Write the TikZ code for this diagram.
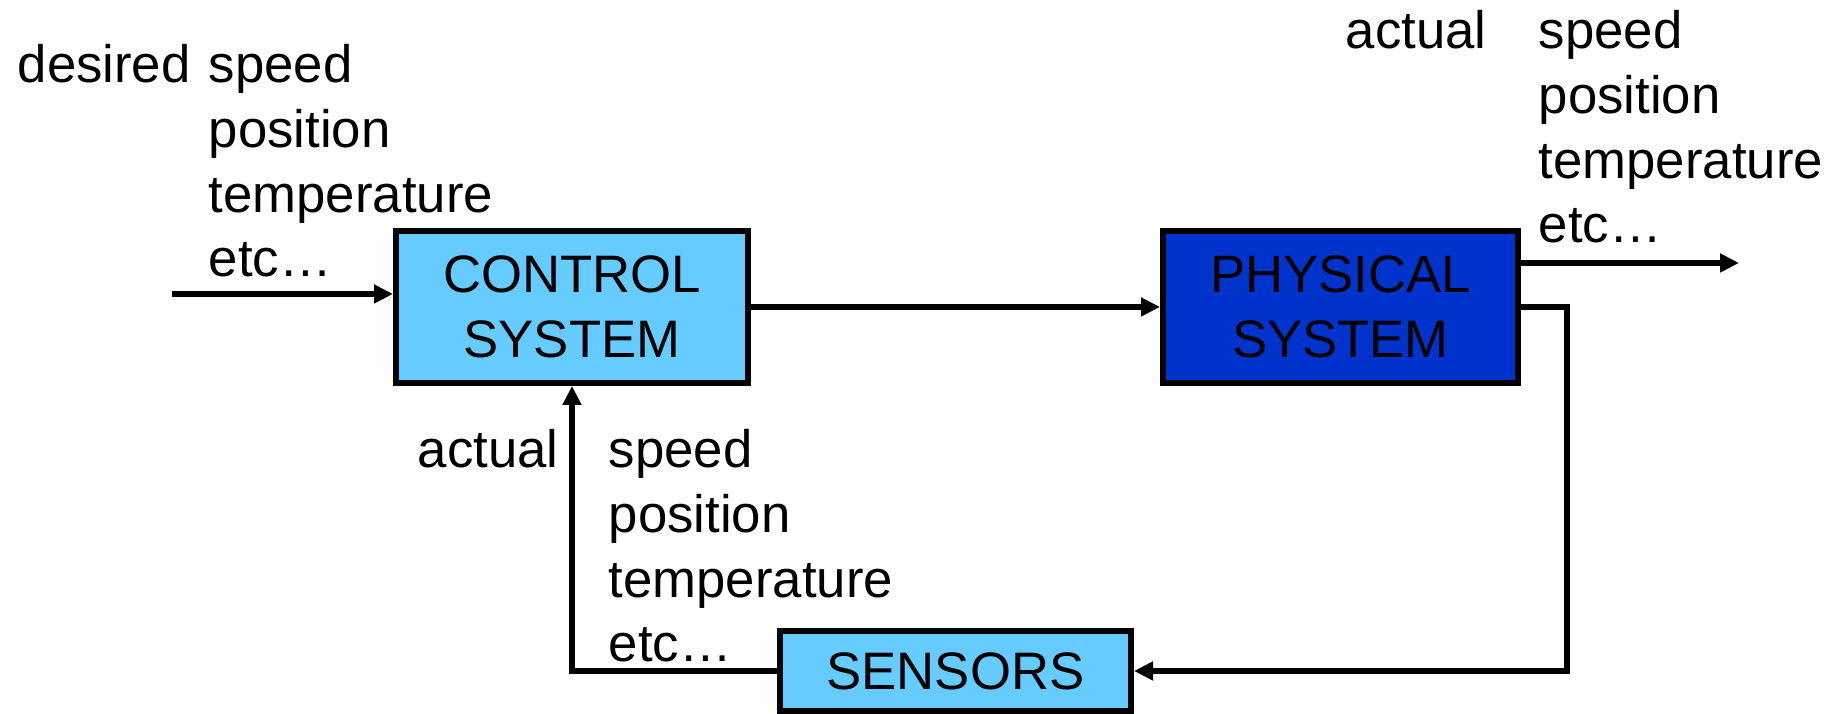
\documentclass[tikz,border=0pt]{standalone}
\usepackage{fontspec}
\setmainfont{Liberation Sans}
\usepackage{xcolor}
\usetikzlibrary{arrows.meta}
\definecolor{skyblue}{HTML}{66CCFF}
\definecolor{royal}{HTML}{0033CC}
\newcommand{\diagfont}{\fontsize{15}{18.4}\selectfont}

\begin{document}
\begin{tikzpicture}[
  every node/.style={rectangle, sharp corners, align=center, font=\diagfont},
  block/.style={draw=black, line width=1.7pt, minimum height=1.52cm},
  lbl/.style={inner sep=0pt, align=left},
  arrow/.style={-{Triangle[length=0.19cm, width=0.18cm]}, line width=1.6pt, black}
]
\useasboundingbox (0,0) rectangle (18.36,7.14);

%% Blocks
\node[block, fill=skyblue, minimum width=3.52cm] (ctrl) at (5.72,4.07) {CONTROL\\SYSTEM};

\node[block, fill=royal, minimum width=3.55cm] (phys) at (13.405,4.07) {PHYSICAL\\SYSTEM};

\node[block, fill=skyblue, minimum width=3.51cm, minimum height=0.8cm] (sens) at (9.555,0.43) {SENSORS};

%% Labels
\node[lbl, anchor=base west] (desired) at (0.17,6.31) {desired};
\node[lbl, anchor=north west] (setpts) at (2.08,6.70) {speed\\position\\temperature\\etc…};

\node[lbl, anchor=base west] (actout) at (13.45,6.65) {actual};
\node[lbl, anchor=north west] (outpts) at (15.38,7.04) {speed\\position\\temperature\\etc…};

\node[lbl, anchor=base west] (actfb) at (4.17,2.46) {actual};
\node[lbl, anchor=north west] (fbpts) at (6.08,2.85) {speed\\position\\temperature\\etc…};

%% Connectors
\coordinate (in) at (1.72,4.20);
\coordinate (out) at (17.39,4.51);
\draw[arrow] (in) -- (in -| ctrl.west);
\draw[arrow] (ctrl.east) -- (phys.west);
\draw[arrow] (out -| phys.east) -- (out);

%% Feedback loop
\draw[arrow] (phys.east) -- ++(0.46,0) |- (sens.east);
\draw[arrow] (sens.west) -| (ctrl.south);

\end{tikzpicture}
\end{document}
